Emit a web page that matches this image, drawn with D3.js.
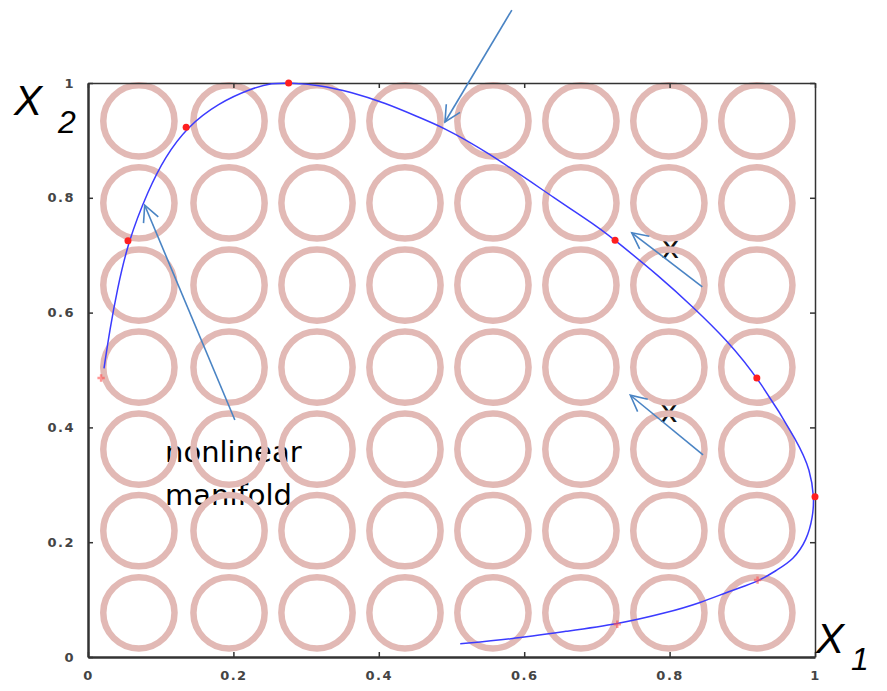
<!DOCTYPE html>
<html>
<head>
<meta charset="utf-8">
<script src="https://cdn.jsdelivr.net/npm/d3@7"></script>
<style>
  body { margin: 0; background: #fff; }
  svg { display: block; }
</style>
</head>
<body>
<div id="chart"></div>
<script>
// grid of circles (centres, data units)
const gridX = [0.070, 0.194, 0.315, 0.436, 0.557, 0.678, 0.799, 0.920];
const gridY = [0.077, 0.220, 0.362, 0.505, 0.648, 0.791, 0.934];
const circleR = 0.049;

// manifold curve
const curveX = [0.022, 0.030, 0.040, 0.055, 0.083, 0.106, 0.136, 0.179, 0.226, 0.253, 0.278, 0.316, 0.363, 0.409, 0.454, 0.488, 0.546, 0.649, 0.704, 0.725, 0.787, 0.832, 0.879, 0.922, 0.979, 0.993, 0.999, 0.997, 0.989, 0.970, 0.948, 0.922, 0.887, 0.842, 0.796, 0.728, 0.659, 0.580, 0.512];
const curveY = [0.503, 0.570, 0.639, 0.723, 0.814, 0.871, 0.923, 0.965, 0.991, 1.000, 1.000, 0.997, 0.984, 0.965, 0.941, 0.923, 0.883, 0.793, 0.747, 0.726, 0.662, 0.610, 0.552, 0.486, 0.369, 0.326, 0.279, 0.244, 0.204, 0.169, 0.152, 0.131, 0.117, 0.094, 0.077, 0.057, 0.045, 0.031, 0.023];

// sample points on the manifold
const dotX = [0.276, 0.135, 0.055, 0.725, 0.920, 1.000];
const dotY = [1.000, 0.923, 0.725, 0.726, 0.486, 0.279];
const faintX = [0.018, 0.921, 0.728];
const faintY = [0.486, 0.134, 0.057];

// arrows [x0, y0, x1, y1] (tail -> head)
const arrows = [
  [0.583, 1.127, 0.491, 0.932],
  [0.202, 0.413, 0.078, 0.787],
  [0.845, 0.645, 0.748, 0.739],
  [0.846, 0.352, 0.746, 0.456]
];

const ticks = [0, 0.2, 0.4, 0.6, 0.8, 1];
const tickLabels = ['0', '0.2', '0.4', '0.6', '0.8', '1'];

const notes = [
  {text: 'nonlinear', x: 0.106, y: 0.340},
  {text: 'manifold', x: 0.106, y: 0.265}
];
const xMarks = [[0.801, 0.695], [0.799, 0.409]];

const width = 887, height = 691;

const svg = d3.select('#chart').append('svg')
  .attr('width', width)
  .attr('height', height);

const x = d3.scaleLinear().domain([0, 1]).range([88, 815]);
const y = d3.scaleLinear().domain([0, 1]).range([657, 83]);

// text that sits under the circles
svg.append('g').selectAll('text')
  .data(notes)
  .join('text')
  .attr('x', d => x(d.x))
  .attr('y', d => y(d.y))
  .attr('font-family', 'DejaVu Sans, sans-serif')
  .attr('font-size', 29)
  .attr('fill', '#000')
  .text(d => d.text);

svg.append('g').selectAll('text')
  .data(xMarks)
  .join('text')
  .attr('x', d => x(d[0]))
  .attr('y', d => y(d[1]))
  .attr('text-anchor', 'middle')
  .attr('font-family', 'DejaVu Sans, sans-serif')
  .attr('font-size', 30)
  .attr('fill', '#111')
  .text('x');

// circles
const cells = d3.cross(gridX, gridY);
const rPx = x(circleR) - x(0);
svg.append('g').selectAll('circle')
  .data(cells)
  .join('circle')
  .attr('cx', d => x(d[0]))
  .attr('cy', d => y(d[1]))
  .attr('r', rPx)
  .attr('fill', 'none')
  .attr('stroke', '#e2b9b5')
  .attr('stroke-width', 6.5);

// frame + ticks
const axB = d3.axisBottom(x).tickValues(ticks).tickFormat((d, i) => tickLabels[i]).tickSizeInner(-5).tickSizeOuter(0).tickPadding(14);
const axT = d3.axisTop(x).tickValues(ticks).tickFormat('').tickSizeInner(-5).tickSizeOuter(0);
const axL = d3.axisLeft(y).tickValues(ticks).tickFormat((d, i) => tickLabels[i]).tickSizeInner(-5).tickSizeOuter(0).tickPadding(13);
const axR = d3.axisRight(y).tickValues(ticks).tickFormat('').tickSizeInner(-5).tickSizeOuter(0);

function styleAxis(g, w) {
  g.select('.domain').attr('stroke', '#333').attr('stroke-width', w);
  g.selectAll('.tick line').attr('stroke', '#333').attr('stroke-width', 1.5);
  g.selectAll('.tick text')
    .attr('font-family', 'DejaVu Sans, sans-serif')
    .attr('font-size', 13)
    .attr('font-weight', 'bold')
    .attr('letter-spacing', 1.5)
    .attr('fill', '#444');
}

svg.append('g').attr('transform', 'translate(0,83)').call(axT).call(styleAxis, 1.5);
svg.append('g').attr('transform', 'translate(815,0)').call(axR).call(styleAxis, 1.5);
svg.append('g').attr('transform', 'translate(0,657)').call(axB).call(styleAxis, 2.5);
svg.append('g').attr('transform', 'translate(88,0)').call(axL).call(styleAxis, 2.5);

// manifold curve
const curvePts = curveX.map((v, i) => [v, curveY[i]]);
const line = d3.line()
  .x(d => x(d[0]))
  .y(d => y(d[1]))
  .curve(d3.curveBasis);

svg.append('path')
  .datum(curvePts)
  .attr('d', line)
  .attr('fill', 'none')
  .attr('stroke', '#3b3bff')
  .attr('stroke-width', 1.5);

// sample points
svg.append('g').selectAll('circle')
  .data(dotX.map((v, i) => [v, dotY[i]]))
  .join('circle')
  .attr('cx', d => x(d[0]))
  .attr('cy', d => y(d[1]))
  .attr('r', 3.5)
  .attr('fill', '#ff1f1f');

svg.append('g').selectAll('path')
  .data(faintX.map((v, i) => [v, faintY[i]]))
  .join('path')
  .attr('transform', d => `translate(${x(d[0])},${y(d[1])})`)
  .attr('d', d3.symbol(d3.symbolCross, 30))
  .attr('fill', '#ff5050')
  .attr('opacity', 0.6);

// arrows
const arrowColor = '#4a84c4';
svg.append('defs').append('marker')
  .attr('id', 'head')
  .attr('markerUnits', 'userSpaceOnUse')
  .attr('viewBox', '-20 -10 22 20')
  .attr('refX', 0)
  .attr('refY', 0)
  .attr('markerWidth', 22)
  .attr('markerHeight', 20)
  .attr('orient', 'auto')
  .append('path')
  .attr('d', 'M-16,-8 L0,0 L-16,8')
  .attr('fill', 'none')
  .attr('stroke', arrowColor)
  .attr('stroke-width', 1.6);

svg.append('g').selectAll('line')
  .data(arrows)
  .join('line')
  .attr('x1', d => x(d[0]))
  .attr('y1', d => y(d[1]))
  .attr('x2', d => x(d[2]))
  .attr('y2', d => y(d[3]))
  .attr('stroke', arrowColor)
  .attr('stroke-width', 1.6)
  .attr('marker-end', 'url(#head)');

// axis titles
function axisTitle(px, py, sub, sx, sy) {
  const t = svg.append('g')
    .attr('font-family', 'Liberation Sans, sans-serif')
    .attr('font-style', 'italic')
    .attr('fill', '#000');
  t.append('text').attr('x', px).attr('y', py).attr('font-size', 42).text('X');
  t.append('text').attr('x', sx).attr('y', sy).attr('font-size', 32).text(sub);
}
axisTitle(14, 115, '2', 58, 133);
axisTitle(816, 653, '1', 851, 670);
</script>
</body>
</html>
